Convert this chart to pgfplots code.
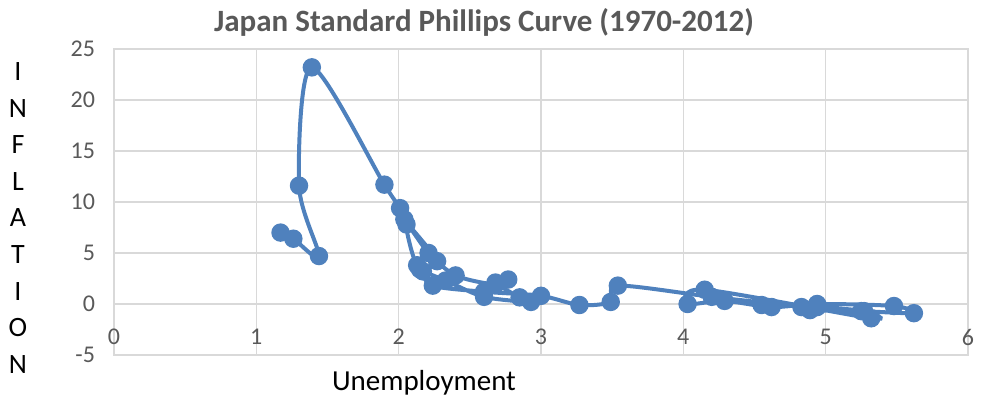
\documentclass[border=0pt]{standalone}
\usepackage{pgfplots}
\pgfplotsset{compat=1.18}
\usepackage{fontspec}
\setmainfont{Carlito}
\definecolor{serblue}{RGB}{79,129,189}
\definecolor{gridgray}{RGB}{217,217,217}
\definecolor{txtgray}{RGB}{89,89,89}
\pgfplotstableread{
x y
1.17 7.0
1.26 6.4
1.44 4.7
1.30 11.6
1.39 23.2
1.90 11.7
2.01 9.4
2.04 8.3
2.27 4.2
2.13 3.8
2.055 7.8
2.21 5.0
2.40 2.8
2.68 1.9
2.77 2.4
2.68 2.1
2.85 0.65
2.93 0.2
2.60 0.7
2.33 2.3
2.17 3.2
2.15 3.4
2.24 1.8
2.60 1.2
3.00 0.8
3.27 -0.1
3.49 0.2
3.54 1.8
4.20 0.7
4.83 -0.3
4.89 -0.6
5.25 -0.7
5.62 -0.9
5.48 -0.2
4.94 0.0
4.62 -0.3
4.29 0.3
4.03 0.0
4.15 1.4
5.32 -1.4
5.27 -0.7
4.94 -0.3
4.55 -0.1
}\phillips
\begin{document}
\begin{tikzpicture}
\path[use as bounding box] (0,0) rectangle (491pt,200pt);
\begin{axis}[
  at={(57pt,22.5pt)}, anchor=south west,
  scale only axis, width=427pt, height=153pt,
  xmin=0, xmax=6, ymin=-5, ymax=25,
  xtick={0,1,2,3,4,5,6}, ytick={-5,0,5,10,15,20,25},
  grid=major, major grid style={gridgray, line width=0.6pt},
  axis line style={gridgray, line width=0.6pt},
  tick style={draw=none},
  /pgf/number format/assume math mode=true,
  ticklabel style={font=\fontsize{12}{12}\selectfont, text=txtgray},
  xticklabel style={anchor=center, yshift=9pt},
  yticklabel style={xshift=-6pt},
  clip=false,
]
\addplot[serblue, line width=2pt, smooth, tension=0.5, mark=*, mark size=3.6pt, mark options={fill=serblue, draw=serblue}] table[x=x,y=y] {\phillips};
\end{axis}
\node[font=\bfseries\fontsize{15.5}{17}\selectfont, text=txtgray] at (242pt,189pt) {Japan Standard Phillips Curve (1970-2012)};
\node[font=\fontsize{14.5}{15}\selectfont] at (212pt,8.5pt) {Unemployment};
\node[font=\fontsize{14}{18.3}\selectfont, align=center] at (9pt,91pt) {I\\N\\F\\L\\A\\T\\I\\O\\N};
\end{tikzpicture}
\end{document}
